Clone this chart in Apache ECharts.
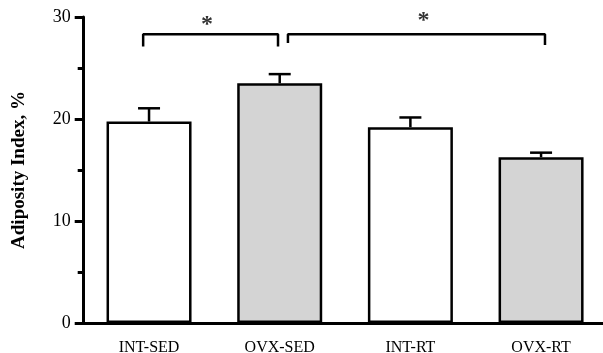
<!DOCTYPE html>
<html>
<head>
<meta charset="utf-8">
<script src="https://cdn.jsdelivr.net/npm/echarts@6/dist/echarts.min.js"></script>
<style>html,body{margin:0;padding:0;background:#fff}#c{width:603px;height:353px}</style>
</head>
<body>
<div id="c"></div>
<script>
var categories = ['INT-SED', 'OVX-SED', 'INT-RT', 'OVX-RT'];
var means = [19.75, 23.5, 19.2, 16.25];
var errors = [1.3, 0.9, 0.95, 0.45];
var fills = ['#ffffff', '#d4d4d4', '#ffffff', '#d4d4d4'];
var yTicks = [0, 10, 20, 30];
// significance brackets on a 0..4 overlay scale (category centres at 0.5, 1.5, 2.5, 3.5)
var bracket1 = [[0.455, 27.1], [0.455, 28.3], [1.487, 28.3], [1.487, 27.1]];
var bracket2 = [[1.563, 27.45], [1.563, 28.3], [3.53, 28.3], [3.53, 27.25]];
var stars = [[0.943, 29.25], [2.6, 29.6]];

var FONT = '"Liberation Serif", "Times New Roman", serif';
var chart = echarts.init(document.getElementById('c'), null, {renderer: 'canvas'});
chart.setOption({
  animation: false,
  grid: {left: 83.7, right: -3.4, top: 17, bottom: 30, containLabel: false, outerBoundsMode: 'none'},
  xAxis: [{
    type: 'category',
    data: categories,
    axisLine: {lineStyle: {color: '#000', width: 3}},
    axisTick: {alignWithLabel: true, length: 8, lineStyle: {color: '#000', width: 3}},
    axisLabel: {color: '#000', fontFamily: FONT, fontSize: 16, margin: 17}
  }, {
    type: 'value', min: 0, max: 4, show: false
  }],
  yAxis: {
    type: 'value', min: 0, max: 30, interval: 10,
    name: 'Adiposity Index, %',
    nameLocation: 'middle', nameGap: 55, nameRotate: 90,
    nameTextStyle: {color: '#000', fontFamily: FONT, fontWeight: 'bold', fontSize: 19},
    axisLine: {show: true, lineStyle: {color: '#000', width: 3}},
    axisTick: {show: true, length: 9, lineStyle: {color: '#000', width: 3}},
    minorTick: {show: true, splitNumber: 2, length: 6, lineStyle: {color: '#000', width: 3}},
    splitLine: {show: false},
    axisLabel: {color: '#000', fontFamily: FONT, fontSize: 18, margin: 13,
      formatter: function (v) { return yTicks.indexOf(v) >= 0 ? String(v) : ''; }}
  },
  series: [{
    type: 'bar',
    data: means.map(function (v, i) { return {value: v, itemStyle: {color: fills[i]}}; }),
    barWidth: 85,
    itemStyle: {borderColor: '#000', borderWidth: 2.5},
    z: 2
  }, {
    type: 'custom',
    data: means.map(function (v, i) { return [i, v, v + errors[i]]; }),
    renderItem: function (params, api) {
      var base = api.coord([api.value(0), api.value(1)]);
      var top = api.coord([api.value(0), api.value(2)]);
      return {
        type: 'group',
        children: [
          {type: 'line', shape: {x1: base[0], y1: base[1], x2: top[0], y2: top[1]}, style: {stroke: '#000', lineWidth: 2.5}},
          {type: 'line', shape: {x1: top[0] - 11, y1: top[1], x2: top[0] + 11, y2: top[1]}, style: {stroke: '#000', lineWidth: 2.5}}
        ]
      };
    },
    z: 3
  }, {
    type: 'line', xAxisIndex: 1, data: bracket1, symbol: 'none',
    lineStyle: {color: '#000', width: 2.5}, z: 4
  }, {
    type: 'line', xAxisIndex: 1, data: bracket2, symbol: 'none',
    lineStyle: {color: '#000', width: 2.5}, z: 4
  }, {
    type: 'scatter', xAxisIndex: 1, data: stars, symbolSize: 0,
    label: {show: true, position: 'inside', formatter: '*', color: '#000',
      fontFamily: FONT, fontWeight: 'bold', fontSize: 24},
    z: 5
  }]
});
</script>
</body>
</html>
